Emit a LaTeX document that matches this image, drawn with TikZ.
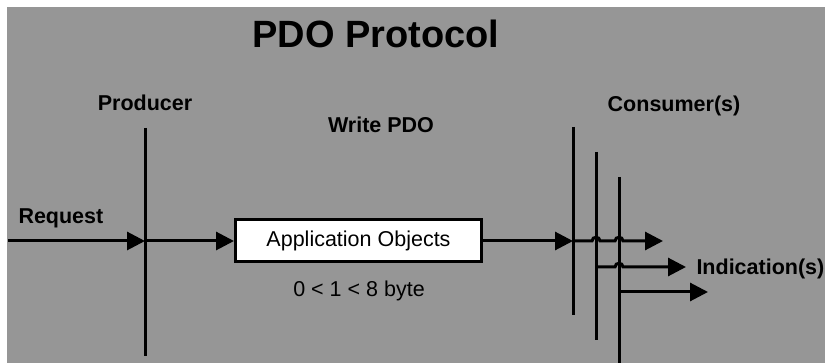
\documentclass[tikz,border=0pt]{standalone}
\usepackage{fontspec}
\setmainfont{Liberation Sans}
\usetikzlibrary{arrows.meta}
\definecolor{bggrey}{RGB}{150,150,150}
\begin{document}
\begin{tikzpicture}[x=1pt,y=-1pt,line width=3pt,
  >={Triangle[length=18pt,width=18pt]},
  lbl/.style={font=\fontsize{21.5}{24}\selectfont\bfseries,inner sep=0pt},
  plain/.style={font=\fontsize{21.5}{24}\selectfont,inner sep=0pt},
  appbox/.style={draw=black,fill=white,line width=3pt,minimum width=246pt,minimum height=42pt,inner sep=0pt,font=\fontsize{21.5}{24}\selectfont}]
\useasboundingbox (0,0) rectangle (825,363);
\fill[bggrey] (7,7) rectangle (825,363);
% texts
\node[font=\fontsize{38}{42}\selectfont\bfseries,inner sep=0pt] (title) at (376,34) {PDO Protocol};
\node[lbl,anchor=base] (producer) at (145,111) {Producer};
\node[lbl,anchor=base] (write) at (381,133) {Write PDO};
\node[lbl,anchor=base] (consumer) at (674,112) {Consumer(s)};
\node[lbl,anchor=base west] (request) at (17,224) {Request};
\node[lbl,anchor=base west] (ind) at (695,275) {Indication(s)};
\node[appbox] (app) at (358.5,240.5) {Application Objects};
\node[plain,anchor=base] (bytes) at (359,297) {0 < 1 < 8 byte};
% coordinates
\coordinate (start) at (8,241);
\coordinate (ptop) at (145,128);
\coordinate (pbot) at (145,356);
\coordinate (pmid) at (145,241);
\coordinate (c1top) at (573,127);
\coordinate (c1bot) at (573,315);
\coordinate (c1mid) at (573,241);
\coordinate (c2top) at (596,152);
\coordinate (c2bot) at (596,340);
\coordinate (c2mid) at (596,267);
\coordinate (c3top) at (619,177);
\coordinate (c3bot) at (619,365);
\coordinate (c3mid) at (619,292);
\coordinate (e1) at (663,241);
\coordinate (e2) at (686,267);
\coordinate (e3) at (708,292);
% vertical lines
\draw (ptop) -- (pbot);
\draw (c1top) -- (c1bot);
\draw (c2top) -- (c2bot);
\draw (c3top) -- (c3bot);
% arrows
\draw[->] (start) -- (pmid);
\draw[->] (pmid) -- (app.west |- pmid);
\draw[->] (app.east |- c1mid) -- (c1mid);
\draw[->] (c1mid) -- (592,241) .. controls (592,236) and (600,236) .. (600,241)
  -- (615,241) .. controls (615,236) and (623,236) .. (623,241) -- (e1);
\draw[->] (c2mid) -- (615,267) .. controls (615,262) and (623,262) .. (623,267) -- (e2);
\draw[->] (c3mid) -- (e3);
\end{tikzpicture}
\end{document}
